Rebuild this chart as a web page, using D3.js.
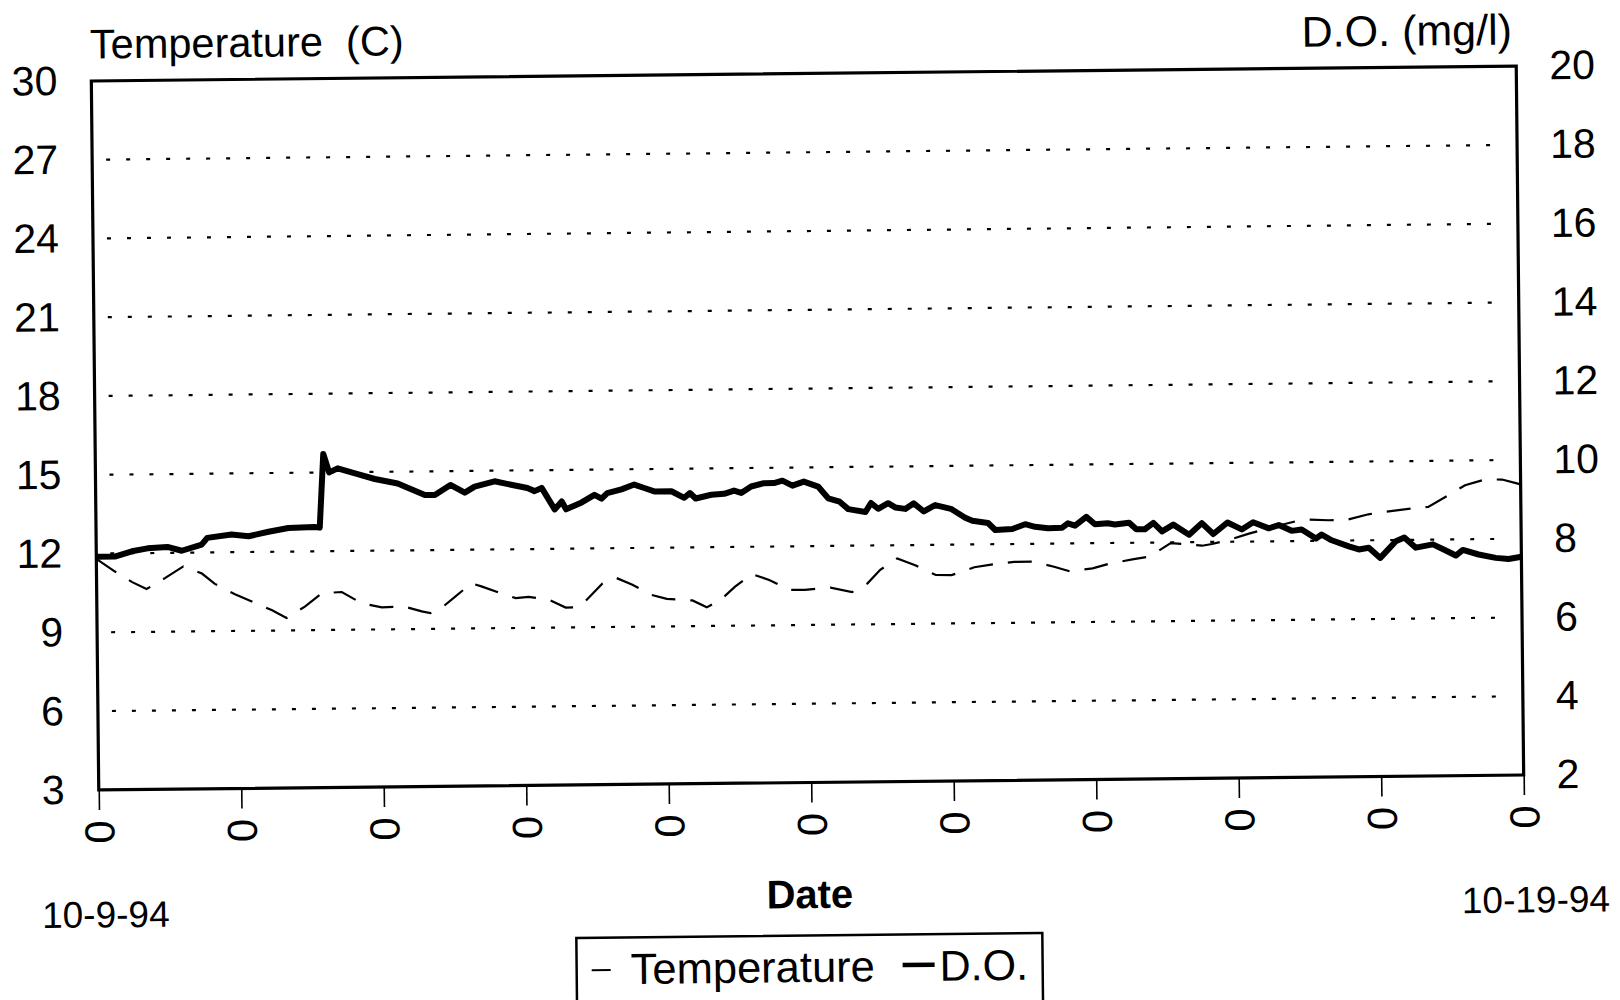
<!DOCTYPE html>
<html>
<head>
<meta charset="utf-8">
<script src="https://cdn.jsdelivr.net/npm/d3@7"></script>
<style>
body { margin: 0; background: #fff; }
svg { display: block; font-family: "Liberation Sans", Arial, Helvetica, sans-serif; }
</style>
</head>
<body>
<svg id="chart" width="1620" height="1000"></svg>
<script>
// days since 10-9-94
var doDays = [0, 0.13, 0.25, 0.36, 0.5, 0.6, 0.74, 0.78, 0.95, 1.07, 1.21, 1.35, 1.53, 1.57, 1.6, 1.64, 1.7, 1.84,
  1.96, 2.12, 2.31, 2.38, 2.49, 2.59, 2.66, 2.8, 3.03, 3.08, 3.13, 3.22, 3.27, 3.3, 3.41, 3.5, 3.55, 3.59, 3.69,
  3.78, 3.85, 3.92, 4.04, 4.13, 4.17, 4.21, 4.32, 4.41, 4.48, 4.53, 4.6, 4.69, 4.76, 4.82, 4.89, 4.97, 5.07, 5.14,
  5.22, 5.28, 5.4, 5.44, 5.49, 5.56, 5.61, 5.68, 5.74, 5.81, 5.89, 6, 6.1, 6.15, 6.26, 6.31, 6.43, 6.52, 6.59,
  6.68, 6.78, 6.82, 6.87, 6.95, 7.01, 7.1, 7.15, 7.25, 7.3, 7.36, 7.42, 7.48, 7.56, 7.67, 7.76, 7.84, 7.94, 8.04,
  8.12, 8.23, 8.3, 8.39, 8.46, 8.56, 8.6, 8.67, 8.79, 8.86, 8.93, 9.01, 9.12, 9.18, 9.26, 9.38, 9.47, 9.54, 9.59,
  9.7, 9.82, 9.91, 10];
var doValues = [7.92, 7.92, 8.05, 8.12, 8.15, 8.05, 8.2, 8.37, 8.45, 8.4, 8.51, 8.6, 8.62, 8.6, 10.47, 10.0, 10.1, 9.95,
  9.82, 9.7, 9.4, 9.4, 9.65, 9.45, 9.6, 9.73, 9.55, 9.47, 9.55, 9.0, 9.2, 9.0, 9.17, 9.36, 9.26, 9.4, 9.49,
  9.61, 9.52, 9.43, 9.43, 9.26, 9.38, 9.24, 9.33, 9.35, 9.43, 9.37, 9.53, 9.61, 9.61, 9.67, 9.54, 9.64, 9.51, 9.21,
  9.12, 8.93, 8.85, 9.08, 8.93, 9.07, 8.96, 8.92, 9.06, 8.85, 9.01, 8.91, 8.68, 8.6, 8.54, 8.36, 8.38, 8.5, 8.43,
  8.39, 8.4, 8.51, 8.45, 8.67, 8.48, 8.5, 8.47, 8.51, 8.34, 8.34, 8.5, 8.28, 8.45, 8.19, 8.48, 8.2, 8.49, 8.31,
  8.49, 8.33, 8.41, 8.26, 8.29, 8.06, 8.16, 8.01, 7.85, 7.77, 7.81, 7.55, 7.97, 8.06, 7.8, 7.88, 7.72, 7.59, 7.73,
  7.61, 7.52, 7.49, 7.54];

var tempDays = [0, 0.13, 0.25, 0.35, 0.48, 0.61, 0.74, 0.83, 0.97, 1.1, 1.23, 1.33, 1.46, 1.58, 1.72, 1.86, 2, 2.15,
  2.28, 2.34, 2.42, 2.52, 2.63, 2.7, 2.82, 2.94, 3.03, 3.17, 3.29, 3.36, 3.43, 3.55, 3.65, 3.76, 3.89, 4, 4.18,
  4.28, 4.38, 4.48, 4.6, 4.72, 4.86, 4.97, 5.15, 5.3, 5.41, 5.5, 5.62, 5.75, 5.89, 6, 6.16, 6.29, 6.44, 6.57, 6.72,
  6.83, 6.99, 7.1, 7.27, 7.39, 7.54, 7.64, 7.76, 7.83, 7.95, 8.09, 8.3, 8.47, 8.65, 8.77, 8.93, 9.05, 9.21, 9.35,
  9.49, 9.61, 9.75, 9.87, 9.98, 10];
var tempValues = [11.8, 11.31, 10.9, 10.63, 11.04, 11.48, 11.2, 10.8, 10.4, 10.09, 9.77, 9.47, 9.9, 10.4, 10.44, 10.0,
  9.84, 9.87, 9.67, 9.6, 9.8, 10.24, 10.72, 10.6, 10.36, 10.14, 10.18, 10.07, 9.76, 9.76, 10.0, 10.66, 10.86, 10.6,
  10.21, 10.05, 9.98, 9.71, 10.0, 10.49, 10.96, 10.73, 10.34, 10.34, 10.41, 10.23, 10.56, 11.07, 11.5, 11.22, 10.85,
  10.84, 11.13, 11.23, 11.32, 11.32, 11.12, 10.94, 11.04, 11.2, 11.37, 11.47, 11.97, 11.93, 11.86, 11.92, 12.07,
  12.3, 12.6, 12.82, 12.78, 12.78, 12.99, 13.08, 13.18, 13.25, 13.68, 14.06, 14.27, 14.26, 14.1, 14.05];

var dayTicks = [0, 1, 2, 3, 4, 5, 6, 7, 8, 9, 10];
var tempTicks = [3, 6, 9, 12, 15, 18, 21, 24, 27, 30];
var doTicks = [2, 4, 6, 8, 10, 12, 14, 16, 18, 20];
var dateLabels = ["10-9-94", "10-19-94"];
var legendNames = ["Temperature", "D.O."];

var m = {left: 95, right: 1520, top: 73.5, bottom: 782.5};

var svg = d3.select("svg#chart");
// the scanned page sits slightly tilted
var g = svg.append("g").attr("transform", "rotate(-0.6,807,428)");

var x = d3.scaleLinear().domain([0, 10]).range([m.left, m.right]);
var yTemp = d3.scaleLinear().domain([3, 30]).range([m.bottom, m.top]);
var yDO = d3.scaleLinear().domain([2, 20]).range([m.bottom, m.top]);

// dotted grid
g.selectAll(".grid")
  .data(tempTicks.slice(1, -1))
  .enter().append("line")
    .attr("class", "grid")
    .attr("x1", m.left + 14)
    .attr("x2", m.right - 17)
    .attr("y1", function(d) { return yTemp(d); })
    .attr("y2", function(d) { return yTemp(d); })
    .attr("stroke", "#000")
    .attr("stroke-width", 2.2)
    .attr("stroke-dasharray", "4,16");

var tempLine = d3.line()
  .x(function(d, i) { return x(tempDays[i]); })
  .y(function(d) { return yTemp(d); });

var doLine = d3.line()
  .x(function(d, i) { return x(doDays[i]); })
  .y(function(d) { return yDO(d); });

g.append("path")
  .datum(tempValues)
  .attr("d", tempLine)
  .attr("fill", "none")
  .attr("stroke", "#000")
  .attr("stroke-width", 2.2)
  .attr("stroke-dasharray", "24,15");

g.append("path")
  .datum(doValues)
  .attr("d", doLine)
  .attr("fill", "none")
  .attr("stroke", "#000")
  .attr("stroke-width", 6)
  .attr("stroke-linejoin", "round");

// frame
g.append("rect")
  .attr("x", m.left)
  .attr("y", m.top)
  .attr("width", m.right - m.left)
  .attr("height", m.bottom - m.top)
  .attr("fill", "none")
  .attr("stroke", "#000")
  .attr("stroke-width", 3.2);

var leftAxis = g.append("g")
  .attr("transform", "translate(" + m.left + ",0)")
  .call(d3.axisLeft(yTemp).tickValues(tempTicks).tickSize(0).tickPadding(34));

var rightAxis = g.append("g")
  .attr("transform", "translate(" + m.right + ",0)")
  .call(d3.axisRight(yDO).tickValues(doTicks).tickSize(0).tickPadding(33));

var bottomAxis = g.append("g")
  .attr("transform", "translate(0," + m.bottom + ")")
  .call(d3.axisBottom(x).tickValues(dayTicks).tickSize(20).tickFormat(function() { return "0"; }));

[leftAxis, rightAxis, bottomAxis].forEach(function(a) {
  a.select(".domain").remove();
  a.attr("font-family", null).attr("font-size", null);
  a.selectAll("text").attr("fill", "#000").style("font-size", "41px");
});
bottomAxis.selectAll("line").attr("stroke", "#000").attr("stroke-width", 1.6);
bottomAxis.selectAll("text")
  .attr("y", 0)
  .attr("dy", "0.35em")
  .attr("text-anchor", "middle")
  .attr("transform", "translate(0,42) rotate(-90)")
  .style("font-size", "42px");

// titles
g.append("text")
  .attr("x", 94)
  .attr("y", 51)
  .style("font-size", "41.5px")
  .style("white-space", "pre")
  .text("Temperature  (C)");

g.append("text")
  .attr("x", 1516)
  .attr("y", 52)
  .attr("text-anchor", "end")
  .style("font-size", "43px")
  .text("D.O. (mg/l)");

g.append("text")
  .attr("x", 805)
  .attr("y", 908)
  .attr("text-anchor", "middle")
  .style("font-size", "40px")
  .style("font-weight", "bold")
  .text("Date");

g.append("text")
  .attr("x", 37)
  .attr("y", 920)
  .style("font-size", "37px")
  .text(dateLabels[0]);

g.append("text")
  .attr("x", 1605)
  .attr("y", 920)
  .attr("text-anchor", "end")
  .style("font-size", "37px")
  .text(dateLabels[1]);

// legend
var legend = g.append("g");
legend.append("rect")
  .attr("x", 571)
  .attr("y", 935.5)
  .attr("width", 466)
  .attr("height", 72)
  .attr("fill", "#fff")
  .attr("stroke", "#000")
  .attr("stroke-width", 2.5);

legend.append("line")
  .attr("x1", 586).attr("x2", 605)
  .attr("y1", 968).attr("y2", 968)
  .attr("stroke", "#000")
  .attr("stroke-width", 2);

legend.append("text")
  .attr("x", 625)
  .attr("y", 982)
  .style("font-size", "43.5px")
  .text(legendNames[0]);

legend.append("line")
  .attr("x1", 897).attr("x2", 929)
  .attr("y1", 966).attr("y2", 966)
  .attr("stroke", "#000")
  .attr("stroke-width", 4.5);

legend.append("text")
  .attr("x", 934)
  .attr("y", 982)
  .style("font-size", "43px")
  .text(legendNames[1]);
</script>
</body>
</html>
